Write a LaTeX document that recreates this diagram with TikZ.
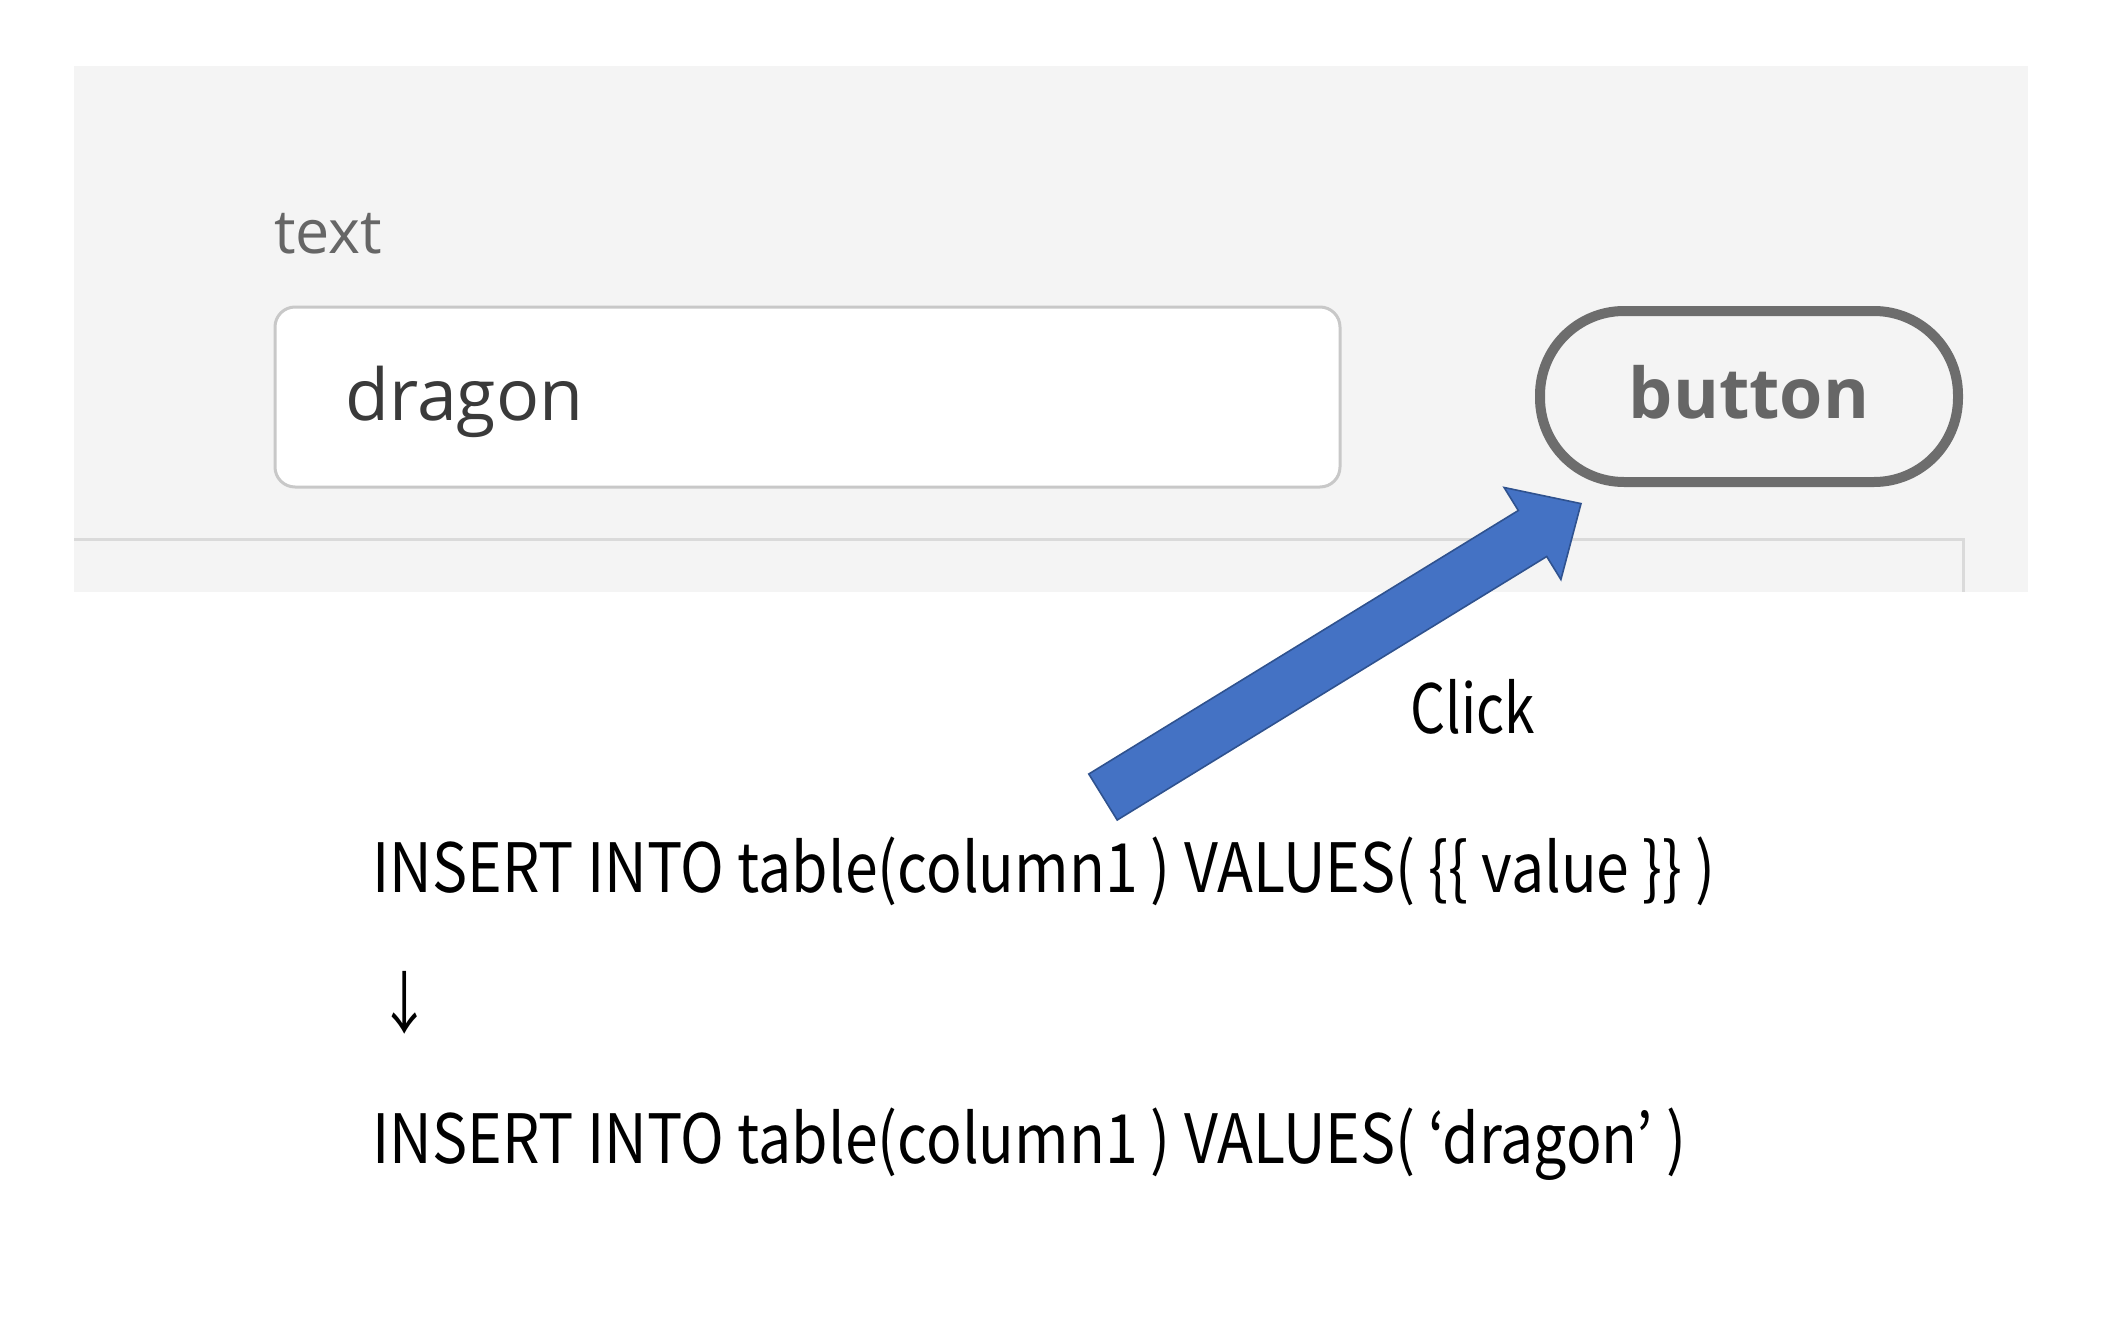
\documentclass[tikz,border=0pt]{standalone}
\usepackage{graphicx}
\usepackage{fontspec}
\setmainfont{Open Sans}
\newfontfamily\jpfont{Noto Sans CJK JP}
\definecolor{panelbg}{HTML}{F4F4F4}
\definecolor{boxline}{HTML}{C8C8C8}
\definecolor{btnline}{HTML}{6D6D6D}
\definecolor{sepline}{HTML}{DADADA}
\definecolor{labelgray}{HTML}{666666}
\definecolor{valgray}{HTML}{3A3A3A}
\definecolor{arrowfill}{HTML}{4472C4}
\definecolor{arrowline}{HTML}{2F528F}
\newcommand{\narrowtxt}[2]{\scalebox{#1}[1]{#2}}
\tikzset{
  uitext/.style={inner sep=0pt, anchor=base west},
  sqltext/.style={inner sep=0pt, anchor=base west, font=\jpfont\fontsize{34}{40}\selectfont, text=black},
}
\begin{document}
\begin{tikzpicture}[x=0.5pt,y=-0.5pt]
\useasboundingbox[fill=white] (0,0) rectangle (2120,1327);
% panel
\fill[panelbg] (74,66) rectangle (2028,592);
\draw[sepline, line width=1.5pt] (74,539) -- (1963,539) -- (1963,592);
% label
\node[uitext, font=\fontsize{30.5}{36}\selectfont, text=labelgray] (lbl) at (274,253) {text};
% input box
\draw[boxline, fill=white, line width=1.5pt, rounded corners=10pt] (275,307) rectangle (1340,487);
\node[uitext, font=\fontsize{35.8}{42}\selectfont, text=valgray] (val) at (345,420) {dragon};
% button
\draw[btnline, line width=5pt, rounded corners=42pt] (1540,311) rectangle (1958,482);
\node[inner sep=0pt, anchor=base, font=\bfseries\fontsize{35}{42}\selectfont, text=labelgray] (btn) at (1749,418) {button};
% block arrow
\filldraw[fill=arrowfill, draw=arrowline, line width=0.8pt, line join=miter]
  (1088.8,774) -- (1518.3,510.5) -- (1504.1,487.5) -- (1581,503.6)
  -- (1560.9,579.5) -- (1546.7,556.5) -- (1117.2,820) -- cycle;
\node[sqltext] (click) at (1410,733) {\narrowtxt{0.81}{Click}};
% SQL
\node[sqltext] (sql1) at (372,892) {\narrowtxt{0.867}{INSERT INTO table(column1 ) VALUES( \{\{ value \}\} )}};
\node[sqltext] (down) at (377,1028) {\narrowtxt{0.8}{↓}};
\node[sqltext] (sql2) at (372,1163) {\narrowtxt{0.867}{INSERT INTO table(column1 ) VALUES( ‘dragon’ )}};
\end{tikzpicture}
\end{document}
